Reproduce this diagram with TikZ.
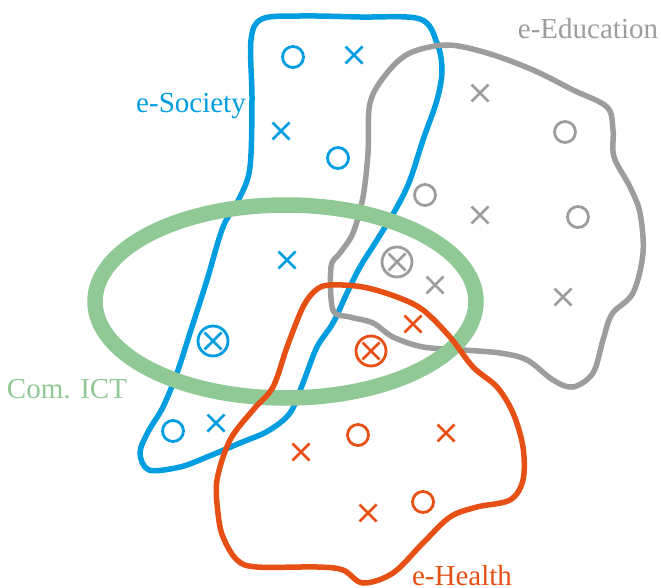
\documentclass[tikz,border=0pt]{standalone}
\usepackage{fontspec}
\setmainfont{Liberation Serif}
\usepackage{tikz}
\definecolor{SocBlue}{RGB}{0,158,224}
\definecolor{EduGray}{RGB}{157,157,156}
\definecolor{HealthOrange}{RGB}{230,80,20}
\definecolor{ICTGreen}{RGB}{144,200,150}
\tikzstyle{area} = [line width=5.5pt]
\tikzstyle{sym} = [line width=2.8pt]
\tikzstyle{lbl} = [font=\fontsize{29}{29}\selectfont, inner sep=0pt]

\begin{document}
\begin{tikzpicture}[x=1pt,y=-1pt]
	\useasboundingbox (0,0) rectangle (661,588);

	% the four domains
	\draw[area, SocBlue] plot[smooth cycle, tension=0.55] coordinates {(251,40) (262,19) (300,16) (360,17) (420,19) (437,43) (442,70) (437,100) (423,140) (410,180) (397,207) (377,240) (360,267) (347,293) (333,323) (317,347) (303,383) (290,413) (268,431) (240,443) (207,457) (180,467) (149,470) (140,453) (148,432) (163,407) (177,373) (190,333) (207,280) (223,227) (240,197) (250,167) (252,100)};
	\draw[area, EduGray] plot[smooth cycle, tension=0.55] coordinates {(447,45) (487,53) (533,70) (573,90) (607,107) (613,130) (614,157) (630,187) (640,213) (643,253) (633,293) (612,314) (603,340) (593,373) (573,387) (553,380) (527,360) (500,353) (463,350) (423,347) (393,337) (373,323) (350,317) (333,310) (331,267) (340,253) (353,233) (363,197) (368,153) (370,103) (387,73) (410,53)};
	\draw[ICTGreen, line width=15.5pt] (285.5,301.5) ellipse [x radius=190.5, y radius=96.5];
	\draw[area, HealthOrange] plot[smooth cycle, tension=0.55] coordinates {(330,285) (363,287) (397,297) (423,310) (450,337) (473,367) (497,387) (513,413) (523,447) (523,480) (510,500) (477,507) (450,517) (423,543) (393,573) (363,583) (343,570) (317,567) (257,567) (237,560) (223,537) (218,513) (217,480) (230,440) (253,410) (273,387) (287,347) (303,307) (316,290)};

	% members: o = circle, x = cross, ox = both
	\foreach \c/\x/\y in {SocBlue/293/57, SocBlue/338/158, SocBlue/173/431, EduGray/565/132, EduGray/425/195, EduGray/578/217, HealthOrange/358/435, HealthOrange/423/502} {
		\draw[sym, \c] (\x,\y) circle[radius=10.5];
	}
	\foreach \c/\x/\y in {SocBlue/354/55, SocBlue/281/131, SocBlue/287/260, SocBlue/216/423, EduGray/480/93, EduGray/480/215, EduGray/435/285, EduGray/563/297, HealthOrange/413/324, HealthOrange/301/452, HealthOrange/446/433, HealthOrange/368/513} {
		\draw[sym, \c] (\x-8.5,\y-8.5) -- (\x+8.5,\y+8.5) (\x-8.5,\y+8.5) -- (\x+8.5,\y-8.5);
	}
	\foreach \c/\x/\y in {SocBlue/213/341, EduGray/397/262, HealthOrange/371/351} {
		\draw[sym, \c] (\x,\y) circle[radius=15] (\x-8.5,\y-8.5) -- (\x+8.5,\y+8.5) (\x-8.5,\y+8.5) -- (\x+8.5,\y-8.5);
	}

	% labels
	\node[lbl, SocBlue] (society) at (191,106) {e-Society};
	\node[lbl, EduGray] (education) at (588,29) {e-Education};
	\node[lbl, ICTGreen] (ict) at (67,389) {Com. ICT};
	\node[lbl, HealthOrange] (health) at (462,576) {e-Health};
\end{tikzpicture}
\end{document}
